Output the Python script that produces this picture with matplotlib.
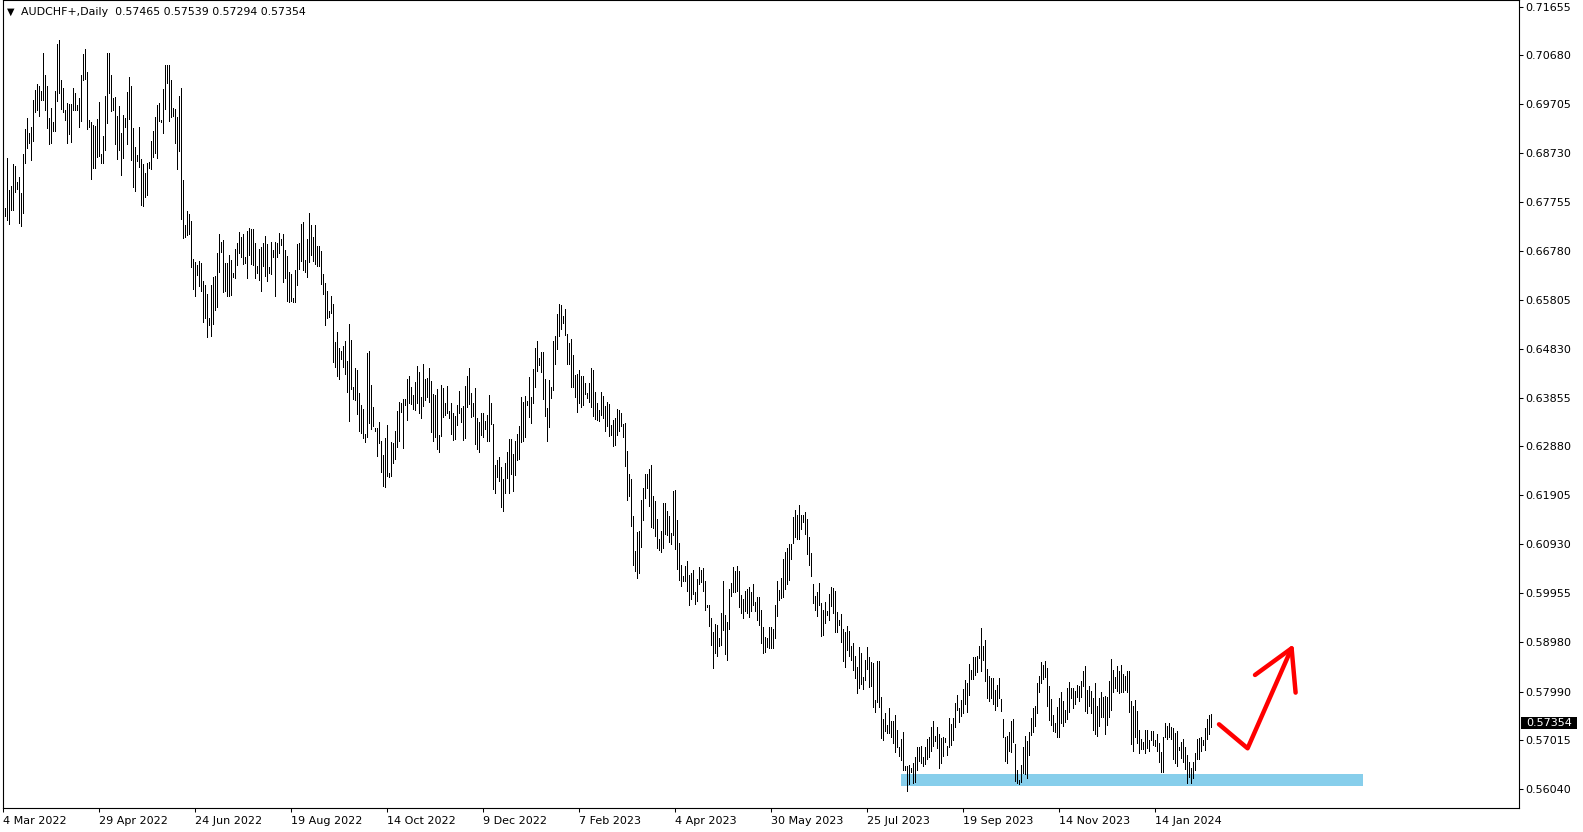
import matplotlib
matplotlib.use('Agg')
import matplotlib.pyplot as plt
from matplotlib.patches import Rectangle
import numpy as np

# AUDCHF+ daily bars, oldest first, high / low in points (price x 10000)
bar_high = [
    6785, 6764, 6863, 6800, 6808, 6852, 6848, 6816, 6825, 6794,
    6871, 6921, 6943, 6913, 6925, 6979, 6999, 7011, 7008, 6998,
    7072, 7029, 7007, 6944, 6963, 6935, 6997, 7090, 7098, 7019,
    7003, 6960, 6974, 6972, 6971, 7003, 6994, 6970, 6983, 7029,
    7071, 7080, 7035, 6939, 6935, 6930, 6927, 6942, 6975, 6871,
    6907, 6988, 7072, 7072, 7029, 6983, 6985, 6947, 6967, 6913,
    6949, 6944, 6996, 7025, 7007, 6924, 6885, 6870, 6925, 6862,
    6852, 6833, 6854, 6856,
    6898, 6918, 6946, 6970, 6974, 6940, 7001, 7048, 7049, 7048,
    7019, 6964, 6962, 6946, 6987, 7004, 6819, 6729, 6758, 6751,
    6737, 6662, 6656, 6650, 6658, 6653, 6618, 6611, 6593, 6544,
    6611, 6625, 6628, 6673, 6711, 6695, 6699, 6653, 6654, 6670,
    6660, 6633, 6681, 6693, 6715, 6705, 6712, 6665, 6717, 6724,
    6722, 6722, 6693, 6648, 6681, 6685, 6693, 6707, 6691, 6646,
    6695, 6679, 6695, 6693, 6713, 6701, 6712, 6679, 6668, 6635,
    6632, 6585, 6640, 6692, 6693,
    6732, 6736, 6659, 6701, 6754, 6730, 6706, 6730, 6688, 6687,
    6677, 6632, 6614, 6599, 6559, 6589, 6573, 6497, 6516, 6485,
    6478, 6489, 6498, 6458, 6532, 6500, 6406, 6444, 6440, 6395,
    6371, 6363, 6312, 6475, 6479, 6411, 6367, 6324, 6324, 6336,
    6299, 6271, 6304, 6331, 6235, 6297, 6294, 6319, 6359, 6376,
    6375, 6383, 6383, 6422, 6428, 6406, 6391, 6416, 6448, 6436,
    6387, 6453, 6422, 6425, 6445, 6418, 6393, 6391, 6403, 6311,
    6410, 6404, 6374, 6408, 6358,
    6374, 6354, 6348, 6370, 6399, 6364, 6369, 6409, 6428, 6444,
    6394, 6374, 6404, 6345, 6337, 6355, 6354, 6338, 6350, 6391,
    6374, 6332, 6251, 6260, 6266, 6246, 6223, 6255, 6277, 6302,
    6302, 6272, 6299, 6312, 6328, 6386, 6377, 6389, 6379, 6426,
    6386, 6442, 6485, 6499, 6464, 6477, 6476, 6422, 6365, 6421,
    6407, 6498, 6508, 6553, 6572, 6570, 6548, 6563, 6513, 6495,
    6503, 6470, 6431, 6432, 6440, 6429, 6429, 6415, 6394, 6415,
    6444, 6441, 6397, 6374, 6360,
    6397, 6389, 6369, 6377, 6373, 6330, 6341, 6344, 6362, 6361,
    6354, 6332, 6334, 6279, 6232, 6222, 6149, 6079, 6117, 6120,
    6181, 6206, 6232, 6232, 6243, 6250, 6190, 6179, 6143, 6104,
    6119, 6176, 6176, 6159, 6149, 6116, 6200, 6201, 6141, 6095,
    6052, 6029, 6050, 6059, 6032, 6035, 6042, 5997, 6024, 6048,
    6042, 6046, 6019, 5972, 5971, 5946, 5918, 5934, 5932, 5906,
    5956, 6019, 5952, 5938, 6003, 6015, 6048, 6039, 6050, 6040,
    5992, 5983, 6000, 6003, 6007,
    5997, 6014, 5977, 5987, 5987, 5962, 5927, 5908, 5905, 5927,
    5927, 5924, 5972, 6019, 6002, 6026, 6063, 6078, 6085, 6093,
    6093, 6147, 6161, 6151, 6171, 6151, 6151, 6157, 6143, 6108,
    6076, 6014, 5989, 5997, 6016, 5975, 5962, 5977, 5959, 5994,
    6008, 6006, 6000, 5957, 5942, 5954, 5923, 5918, 5930, 5920,
    5890, 5895, 5869, 5848, 5887, 5876, 5828, 5861, 5888, 5868,
    5857, 5856, 5782, 5859, 5859, 5788, 5744, 5757, 5733, 5766,
    5740, 5740, 5752, 5723, 5689, 5705, 5719, 5651, 5651, 5653,
    5646, 5657, 5668, 5689, 5688, 5691, 5668, 5688, 5705, 5709,
    5728, 5740, 5711, 5728, 5715, 5706, 5708, 5707, 5691, 5746,
    5735, 5746, 5777, 5793, 5766, 5782, 5805, 5822, 5815, 5854,
    5842, 5867, 5867, 5869, 5889, 5925, 5889, 5901, 5844, 5829,
    5825, 5825, 5802, 5812, 5825, 5785, 5745, 5709, 5711, 5718,
    5740, 5744, 5695, 5643, 5623, 5653, 5688, 5711, 5701, 5719,
    5747, 5767, 5770, 5815, 5829,
    5857, 5852, 5860, 5845, 5810, 5784, 5752, 5737, 5769, 5787,
    5798, 5780, 5762, 5807, 5818, 5806, 5806, 5800, 5812, 5809,
    5819, 5840, 5850, 5802, 5809, 5801, 5786, 5816, 5771, 5786,
    5799, 5789, 5790, 5789, 5819, 5864, 5842, 5827, 5850, 5839,
    5852, 5834, 5829, 5840, 5840, 5781, 5771, 5782, 5760, 5722,
    5704, 5699, 5722, 5722, 5702, 5721, 5720, 5702, 5714, 5697,
    5679, 5708, 5737, 5730, 5737, 5728, 5726, 5716, 5721, 5689,
    5698, 5704, 5688, 5673, 5659, 5646, 5659, 5676, 5704, 5706,
    5708, 5702, 5726, 5744, 5752, 5754,
]
bar_low = [
    6706, 6748, 6740, 6731, 6760, 6760, 6796, 6801, 6734, 6727,
    6754, 6853, 6884, 6893, 6859, 6897, 6956, 6959, 6948, 6979,
    6979, 6959, 6923, 6891, 6893, 6917, 6917, 6978, 6993, 6962,
    6956, 6939, 6893, 6911, 6895, 6959, 6960, 6960, 6925, 6938,
    7018, 7021, 6921, 6925, 6821, 6844, 6843, 6866, 6868, 6853,
    6853, 6880, 6933, 6993, 6958, 6959, 6891, 6861, 6880, 6829,
    6864, 6925, 6891, 6942, 6860, 6805, 6797, 6858, 6846, 6769,
    6768, 6786, 6789, 6844,
    6842, 6866, 6874, 6864, 6937, 6935, 6913, 6962, 7013, 6937,
    6945, 6947, 6893, 6841, 6878, 6742, 6703, 6705, 6709, 6711,
    6645, 6603, 6589, 6630, 6609, 6599, 6536, 6544, 6506, 6531,
    6509, 6532, 6561, 6566, 6635, 6675, 6596, 6599, 6589, 6589,
    6590, 6625, 6624, 6650, 6673, 6665, 6652, 6653, 6623, 6670,
    6652, 6650, 6623, 6634, 6619, 6599, 6648, 6627, 6618, 6633,
    6632, 6665, 6589, 6665, 6673, 6690, 6615, 6624, 6578, 6577,
    6578, 6577, 6576, 6611, 6642,
    6658, 6640, 6636, 6626, 6656, 6669, 6657, 6651, 6648, 6648,
    6612, 6592, 6530, 6545, 6546, 6555, 6457, 6447, 6428, 6422,
    6462, 6447, 6432, 6396, 6338, 6403, 6383, 6381, 6353, 6319,
    6314, 6304, 6296, 6307, 6334, 6322, 6328, 6319, 6269, 6294,
    6236, 6210, 6208, 6228, 6226, 6228, 6255, 6262, 6287, 6298,
    6356, 6284, 6371, 6340, 6374, 6373, 6363, 6361, 6374, 6355,
    6344, 6369, 6381, 6386, 6377, 6316, 6298, 6306, 6282, 6277,
    6309, 6346, 6351, 6354, 6344,
    6313, 6300, 6303, 6330, 6355, 6337, 6300, 6305, 6367, 6372,
    6346, 6348, 6292, 6283, 6277, 6310, 6307, 6322, 6298, 6299,
    6332, 6204, 6196, 6226, 6218, 6167, 6159, 6196, 6224, 6195,
    6233, 6199, 6230, 6261, 6263, 6297, 6299, 6307, 6370, 6347,
    6335, 6374, 6407, 6438, 6451, 6436, 6383, 6348, 6299, 6327,
    6385, 6401, 6453, 6483, 6509, 6523, 6534, 6511, 6453, 6452,
    6407, 6407, 6386, 6357, 6374, 6367, 6370, 6392, 6384, 6376,
    6367, 6349, 6342, 6340, 6339,
    6351, 6344, 6319, 6329, 6309, 6310, 6289, 6290, 6310, 6319,
    6328, 6307, 6248, 6181, 6190, 6130, 6052, 6039, 6026, 6035,
    6087, 6141, 6185, 6205, 6169, 6128, 6126, 6109, 6085, 6081,
    6077, 6086, 6113, 6111, 6097, 6093, 6111, 6083, 6044, 6022,
    6010, 6019, 6019, 6000, 5972, 5983, 5993, 5973, 5979, 6014,
    6017, 6000, 5962, 5967, 5930, 5891, 5846, 5876, 5869, 5889,
    5891, 5922, 5873, 5861, 5923, 5990, 5997, 5998, 6000, 5968,
    5955, 5945, 5960, 5956, 5948,
    5959, 5972, 5959, 5941, 5932, 5896, 5875, 5877, 5887, 5885,
    5885, 5886, 5906, 5949, 5982, 5986, 5987, 6004, 6014, 6021,
    6063, 6096, 6108, 6103, 6103, 6123, 6138, 6113, 6074, 6051,
    6029, 5975, 5962, 5950, 5972, 5910, 5912, 5935, 5951, 5942,
    5969, 5955, 5917, 5918, 5932, 5898, 5860, 5847, 5882, 5869,
    5861, 5841, 5826, 5796, 5806, 5814, 5804, 5821, 5843, 5808,
    5810, 5769, 5759, 5779, 5769, 5707, 5702, 5720, 5716, 5717,
    5709, 5697, 5678, 5689, 5671, 5663, 5642, 5642, 5601, 5614,
    5638, 5617, 5619, 5642, 5660, 5656, 5651, 5654, 5664, 5668,
    5681, 5691, 5701, 5687, 5646, 5656, 5671, 5698, 5672, 5689,
    5693, 5703, 5729, 5762, 5738, 5750, 5756, 5775, 5758, 5792,
    5824, 5823, 5832, 5838, 5866, 5839, 5861, 5819, 5787, 5780,
    5787, 5775, 5762, 5770, 5787, 5760, 5708, 5661, 5656, 5680,
    5678, 5698, 5621, 5617, 5614, 5619, 5636, 5634, 5627, 5673,
    5713, 5719, 5730, 5756, 5799,
    5816, 5824, 5828, 5771, 5742, 5732, 5721, 5718, 5709, 5709,
    5736, 5731, 5738, 5744, 5759, 5786, 5766, 5774, 5789, 5781,
    5789, 5809, 5761, 5757, 5770, 5757, 5722, 5714, 5710, 5730,
    5748, 5748, 5714, 5732, 5749, 5762, 5799, 5806, 5800, 5797,
    5799, 5799, 5802, 5799, 5758, 5694, 5681, 5708, 5697, 5676,
    5684, 5684, 5676, 5687, 5681, 5702, 5693, 5691, 5681, 5659,
    5638, 5639, 5709, 5704, 5709, 5704, 5664, 5657, 5651, 5683,
    5666, 5659, 5644, 5617, 5629, 5617, 5627, 5643, 5664, 5665,
    5681, 5692, 5683, 5705, 5714, 5729,
]

date_labels = ['4 Mar 2022', '29 Apr 2022', '24 Jun 2022', '19 Aug 2022',
               '14 Oct 2022', '9 Dec 2022', '7 Feb 2023', '4 Apr 2023',
               '30 May 2023', '25 Jul 2023', '19 Sep 2023', '14 Nov 2023',
               '14 Jan 2024']
price_ticks = [0.71655, 0.70680, 0.69705, 0.68730, 0.67755, 0.66780,
               0.65805, 0.64830, 0.63855, 0.62880, 0.61905, 0.60930,
               0.59955, 0.58980, 0.57990, 0.57015, 0.56040]
symbol = 'AUDCHF+,Daily'
last_ohlc = [0.57465, 0.57539, 0.57294, 0.57354]

# drawn objects: support zone and the hand drawn arrow
zone_bars = [449, 680]
zone_prices = [0.56111, 0.56345]
arrow_bars = [608, 622.3, 644.3]
arrow_prices = [0.57336, 0.56857, 0.58852]
head_bars = [626, 644.3, 646.3]
head_prices = [0.58320, 0.58852, 0.57968]

W, H = 1583, 832
fig = plt.figure(figsize=(W / 100, H / 100), dpi=100)
fig.patch.set_facecolor('white')
ax = fig.add_axes([2.7 / W, 1 - 807.7 / H, (1519.5 - 2.7) / W, 807.7 / H])

highs = np.array(bar_high) / 10000
lows = np.array(bar_low) / 10000
x = np.arange(len(highs))

ax.add_patch(Rectangle((zone_bars[0], zone_prices[0]),
                       zone_bars[1] - zone_bars[0],
                       zone_prices[1] - zone_prices[0],
                       facecolor='#87CEEB', edgecolor='none', zorder=1))
ax.vlines(x, lows, highs, colors='black', linewidth=0.72,
          antialiased=False, zorder=3)

ax.plot(arrow_bars, arrow_prices, color='#FF0000', lw=3.2,
        solid_capstyle='round', solid_joinstyle='round', zorder=4)
ax.plot(head_bars, head_prices, color='#FF0000', lw=3.2,
        solid_capstyle='round', solid_joinstyle='round', zorder=4)

ax.set_xlim(-0.15, 758.25)
ax.set_ylim(0.55672, 0.71786)

ax.yaxis.tick_right()
ax.set_yticks(price_ticks)
ax.set_yticklabels([f'{p:.5f}' for p in price_ticks])
ax.tick_params(axis='y', direction='out', length=3, width=0.75, pad=1.2,
               labelsize=8, colors='black')

ax.set_xticks(np.arange(len(date_labels)) * 48)
ax.set_xticklabels(date_labels, ha='left')
ax.tick_params(axis='x', direction='out', length=3, width=0.75, pad=3,
               labelsize=8, colors='black')
for lab in ax.get_xticklabels():
    lab.set_horizontalalignment('left')

for s in ax.spines.values():
    s.set_linewidth(0.8)
    s.set_color('black')

# header like the terminal shows it
header = symbol + '  ' + ' '.join(f'{v:.5f}' for v in last_ohlc)
fig.text(7 / W, 1 - 12 / H, '\u25bc', fontsize=7, va='center', ha='left')
fig.text(21 / W, 1 - 12 / H, header, fontsize=7.9, va='center', ha='left')

# last price tag on the price scale, placed from the close via the axes scale
close_disp = ax.transData.transform((0, last_ohlc[3]))
y_tag = fig.transFigure.inverted().transform(close_disp)[1]
fig.add_artist(Rectangle((1520.7 / W, y_tag - 6 / H), 56 / W, 12 / H,
                         transform=fig.transFigure, facecolor='black',
                         edgecolor='none', zorder=5))
fig.text((1520.7 + 28) / W, y_tag, f'{last_ohlc[3]:.5f}', ha='center',
         va='center', fontsize=8, color='white', zorder=6)

fig.savefig('out.png', dpi=100)
